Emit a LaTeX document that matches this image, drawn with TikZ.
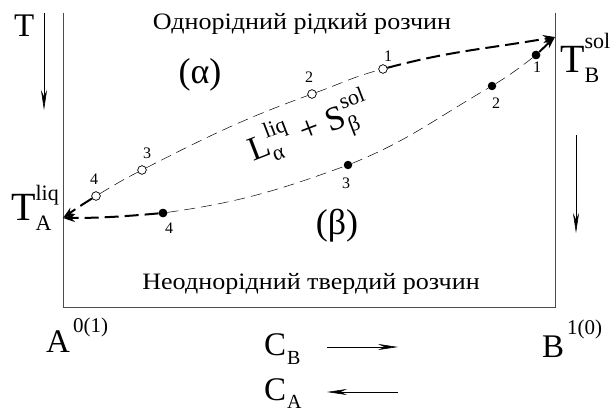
\documentclass[tikz,border=0pt]{standalone}
\usepackage{fontspec}
\setmainfont{Liberation Serif}
\newfontfamily\cyrfont{Liberation Serif}[FakeStretch=1.11]
\usetikzlibrary{arrows.meta}
\newcommand\sfs[1]{\fontsize{#1}{#1}\selectfont}
\newcommand\SupSub[4]{\begingroup\setbox0\hbox{\raisebox{#3}{#1}}\setbox2\hbox{\raisebox{-#4}{#2}}%
 \ifdim\wd0>\wd2 \rlap{\box2}\box0 \else \rlap{\box0}\box2 \fi\endgroup}
\begin{document}
\begin{tikzpicture}[x=1pt,y=-1pt,
  thindash/.style={line width=0.5pt,dash pattern=on 11pt off 6pt},
  thickdash/.style={line width=2pt,dash pattern=on 14pt off 6pt},
  opendot/.style={circle,draw,fill=white,line width=0.6pt,inner sep=0pt,minimum size=8.5pt},
  fulldot/.style={circle,fill=black,inner sep=0pt,minimum size=8.5pt},
  num/.style={font=\sfs{16},inner sep=0pt},
  lbl/.style={inner sep=0pt,anchor=base west},
  frame/.style={line width=0.6pt,draw=black!70},
  arr/.style={line width=0.6pt,-{Stealth[length=20pt,width=6pt]}},
  tip/.style={-{Stealth[length=12pt,width=8pt]}}]
\useasboundingbox (0,0) rectangle (611,412);
% frame
\coordinate (fl) at (63,13);
\coordinate (fbl) at (63,307);
\coordinate (fbr) at (555,307);
\coordinate (fr) at (555,13);
\draw[frame] (fl) -- (fbl) -- (fbr) -- (fr);
% key points
\coordinate (TA) at (63,218);
\coordinate (TB) at (555,37);
\node[opendot] (u4) at (96,196) {};
\node[opendot] (u3) at (142,170) {};
\node[opendot] (u2) at (312,94) {};
\node[opendot] (u1) at (383,69) {};
\node[fulldot] (l4) at (163,213) {};
\node[fulldot] (l3) at (348,165) {};
\node[fulldot] (l2) at (492,86) {};
\node[fulldot] (l1) at (536,55) {};
% upper curve
\draw[thickdash,tip] (u4) to[out=212,in=36] (TA);
\draw[thindash] (u4) to[out=31,in=207] (u3);
\draw[thindash] (u3) to[out=27,in=200] (u2);
\draw[thindash] (u2) to[out=20,in=195] (u1);
\draw[thickdash,tip] (u1) to[out=15,in=190] (TB);
% lower curve
\draw[thickdash,tip] (l4) to[out=185,in=0] (TA);
\draw[thindash] (l4) to[out=8,in=200] (l3);
\draw[thindash] (l3) to[out=22,in=210] (l2);
\draw[thindash] (l2) to[out=32,in=218] (l1);
\draw[line width=2pt,tip] (l1) -- (TB);
% redraw dots on top
\node[opendot] at (u4) {};
\node[opendot] at (u3) {};
\node[opendot] at (u2) {};
\node[opendot] at (u1) {};
\node[fulldot] at (l4) {};
\node[fulldot] at (l1) {};
% numbers
\node[num] (nu4) at (94,179) {4};
\node[num] (nu3) at (147,153) {3};
\node[num] (nu2) at (309,77) {2};
\node[num] (nu1) at (388,56) {1};
\node[num] (nl4) at (169,228) {4};
\node[num] (nl3) at (346,183) {3};
\node[num] (nl2) at (496,103) {2};
\node[num] (nl1) at (537,67) {1};
% side arrows
\node[lbl,font=\sfs{33}] (T) at (14,37) {T};
\coordinate (tas) at (44,13);
\coordinate (tae) at (44,110);
\draw[arr] (tas) -- (tae);
\coordinate (ras) at (576,135);
\coordinate (rae) at (576,233);
\draw[arr] (ras) -- (rae);
% region texts
\node[inner sep=0pt,anchor=base,font=\cyrfont\sfs{23.5}] (top) at (302,30) {Однорідний рідкий розчин};
\node[inner sep=0pt,anchor=base,font=\cyrfont\sfs{23.5}] (bot) at (311,289) {Неоднорідний твердий розчин};
\node[inner sep=0pt,font=\sfs{36}] (alpha) at (200,75) {(α)};
\node[inner sep=0pt,font=\sfs{36}] (beta) at (337,226) {(β)};
\node[lbl,rotate=21,font=\sfs{34}] (mix) at (253,162)
  {L\SupSub{\sfs{22}liq}{\sfs{22}α}{17pt}{8pt}\hspace{11pt}+\hspace{9pt}S\SupSub{\sfs{22}sol}{\sfs{22}β}{17pt}{8pt}};
\node[lbl,font=\sfs{40}] (TAl) at (11,220) {T\SupSub{\sfs{22}liq}{\sfs{22}A}{20pt}{10pt}};
\node[lbl,font=\sfs{40}] (TBl) at (560,73) {T\SupSub{\sfs{22}sol}{\sfs{22}B}{24pt}{10pt}};
\node[lbl,font=\sfs{33}] (Al) at (46,352) {A\hspace{3pt}\SupSub{\sfs{21}0(1)}{}{20pt}{0pt}};
\node[lbl,font=\sfs{33}] (Bl) at (542,357) {B\hspace{3pt}\SupSub{\sfs{21}1(0)}{}{23pt}{0pt}};
\node[lbl,font=\sfs{33}] (CB) at (264,355) {C\hspace{1pt}\SupSub{}{\sfs{20}B}{0pt}{9pt}};
\node[lbl,font=\sfs{33}] (CA) at (264,400) {C\hspace{1pt}\SupSub{}{\sfs{20}A}{0pt}{8pt}};
\coordinate (cbs) at (327,347);
\coordinate (cbe) at (398,347);
\draw[arr] (cbs) -- (cbe);
\coordinate (cas) at (398,392);
\coordinate (cae) at (327,392);
\draw[arr] (cas) -- (cae);
\end{tikzpicture}
\end{document}
